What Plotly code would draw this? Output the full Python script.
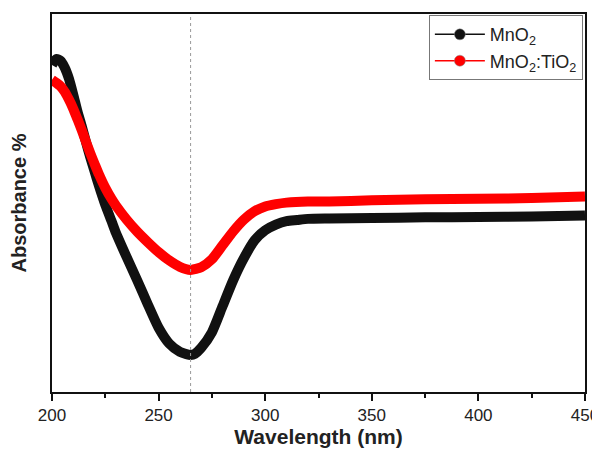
import plotly.graph_objects as go

# Wavelength (nm) and absorbance (arbitrary %)
wl_mno2 = [200, 202, 204, 206, 208, 210, 212, 214, 216, 218, 220, 222, 225, 228, 230,
           235, 240, 245, 250, 255, 260, 263, 265, 267, 270, 275, 280, 285, 290, 295, 300, 305,
           310, 315, 320, 330, 350, 375, 400, 425, 450]
abs_mno2 = [86.5, 88.1, 87.6, 85.8, 82.8, 78.6, 74.1, 70.2, 66.0, 62.0, 58.3, 54.6, 49.5, 45.1, 42.1,
            35.7, 29.5, 23.1, 17.0, 12.8, 10.6, 10.0, 9.8, 10.1, 11.7, 15.8, 22.7, 29.6, 35.4, 40.1, 42.8, 44.3,
            45.2, 45.5, 45.8, 45.9, 46.0, 46.2, 46.3, 46.4, 46.7]

wl_mix = [200, 202, 204, 206, 208, 210, 212, 214, 216, 218, 220, 222, 225, 228, 230,
          235, 240, 245, 250, 255, 260, 265, 270, 275, 280, 285, 290, 295, 300, 305,
          310, 320, 330, 350, 375, 400, 425, 450]
abs_mix = [82.6, 81.8, 80.9, 79.4, 77.3, 74.9, 72.1, 69.2, 66.1, 63.1, 60.3, 57.6, 54.0, 51.0, 49.3,
           45.6, 42.4, 39.6, 37.0, 34.8, 33.1, 32.3, 33.0, 35.1, 38.8, 42.5, 45.6, 47.8, 49.1, 49.7,
           50.1, 50.4, 50.4, 50.7, 51.0, 51.1, 51.3, 51.7]

names = ["MnO<sub>2</sub>", "MnO<sub>2</sub>:TiO<sub>2</sub>"]
colors = ["#111111", "#ff0000"]
x_ticks = [200, 250, 300, 350, 400, 450]
marker_line_nm = 265

fig = go.Figure()
for wl, ab, c in [(wl_mno2, abs_mno2, colors[0]), (wl_mix, abs_mix, colors[1])]:
    fig.add_trace(go.Scatter(x=wl, y=ab, mode="lines", showlegend=False,
                             line=dict(color=c, width=10, shape="spline", smoothing=0.6)))
for i, (n, c) in enumerate(zip(names, colors)):
    fig.add_trace(go.Scatter(x=[None], y=[None], mode="lines+markers", name=n,
                             legendgroup=f"g{i}",
                             line=dict(color=c, width=1.5),
                             marker=dict(color=c, size=11, line=dict(color="#888", width=0.5))))

fig.add_vline(x=marker_line_nm, line=dict(color="#999", width=1, dash="dot"))

# the page body adds an 8px offset, so the figure is 8px smaller than the window
fig.update_layout(
    width=592, height=442,
    margin=dict(l=44, r=15, t=6, b=58),
    paper_bgcolor="white", plot_bgcolor="white",
    font=dict(family="Liberation Sans, Arial, sans-serif", color="#222"),
    showlegend=True,
    legend=dict(x=0.996, y=0.997, xanchor="right", yanchor="top",
                bordercolor="#777", borderwidth=1, bgcolor="white",
                font=dict(size=18, color="#222"), tracegroupgap=0,
                itemwidth=50),
    xaxis=dict(range=[200, 450], tickvals=x_ticks, ticks="outside", ticklen=7, tickwidth=1.5,
               tickcolor="#111", showline=True, linecolor="#111", linewidth=1.5, mirror=True,
               showgrid=False, zeroline=False, tickfont=dict(size=17, color="#222"),
               automargin=False,
               minor=dict(dtick=25, ticks="outside", ticklen=4, tickwidth=1.5, tickcolor="#111"),
               title=dict(text="<b>Wavelength (nm)</b>", font=dict(size=21, color="#222"), standoff=0)),
    yaxis=dict(range=[0, 100], showticklabels=False, ticks="", showline=True, linecolor="#111",
               linewidth=1.5, mirror=True, showgrid=False, zeroline=False, automargin=False,
               title=dict(text="<b>Absorbance %</b>", font=dict(size=20, color="#222"), standoff=25)),
)

fig.write_html("out.html")
